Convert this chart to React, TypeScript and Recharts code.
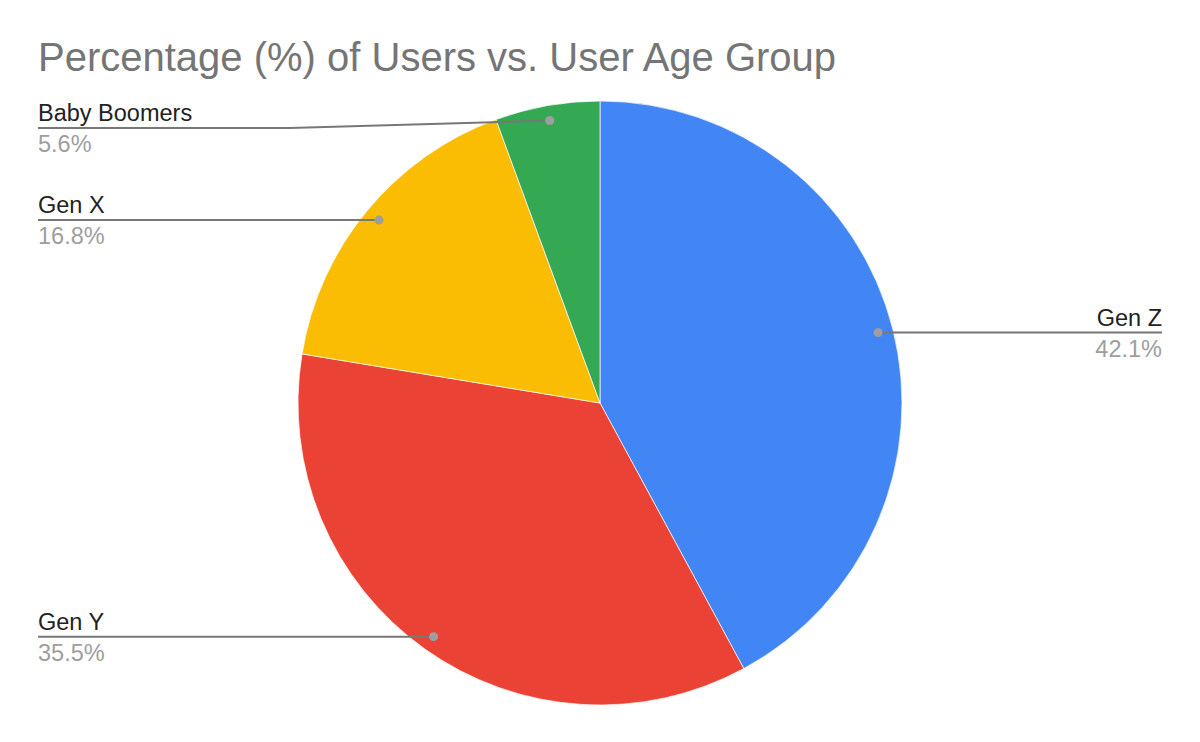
import { PieChart, Pie, Cell } from "recharts";

const groups = ["Gen Z", "Gen Y", "Gen X", "Baby Boomers"];
const shares = [42.1, 35.5, 16.8, 5.6];
const colors = ["#4285F4", "#EA4335", "#FBBC04", "#34A853"];

const data = groups.map((g, i) => ({ name: g, value: shares[i] }));

const RADIAN = Math.PI / 180;
const FONT = "Arial, 'Liberation Sans', sans-serif";

function renderLabel(props: any) {
  const { cx, cy, midAngle, outerRadius, index } = props;
  const r = outerRadius * 0.95;
  const dx = cx + r * Math.cos(-midAngle * RADIAN);
  const dy = cy + r * Math.sin(-midAngle * RADIAN);
  const right = dx > cx;
  const edge = right ? 1162 : 38;
  // keep labels clear of the title
  const ly = Math.max(dy, 128);
  const elbow = right ? 910 : 290;
  const path =
    ly === dy
      ? `M${dx},${dy} L${edge},${ly}`
      : `M${dx},${dy} L${elbow},${ly} L${edge},${ly}`;
  return (
    <g key={`lbl-${index}`}>
      <path d={path} stroke="#777777" strokeWidth={2} fill="none" />
      <circle cx={dx} cy={dy} r={4.5} fill="#9e9e9e" />
      <text
        x={edge}
        y={ly - 7}
        textAnchor={right ? "end" : "start"}
        fontSize={23.5}
        fontFamily={FONT}
        fill="#222222"
      >
        {groups[index]}
      </text>
      <text
        x={edge}
        y={ly + 24}
        textAnchor={right ? "end" : "start"}
        fontSize={23.5}
        fontFamily={FONT}
        fill="#9e9e9e"
      >
        {`${shares[index].toFixed(1)}%`}
      </text>
    </g>
  );
}

export default function App() {
  return (
    <div style={{ position: "absolute", left: 0, top: 0, width: 1200, height: 742, background: "#fff" }}>
      <div
        style={{
          position: "absolute",
          left: 38,
          top: 34,
          fontFamily: FONT,
          fontSize: 40,
          lineHeight: "46px",
          color: "#757575",
          whiteSpace: "nowrap",
        }}
      >
        Percentage (%) of Users vs. User Age Group
      </div>
      <PieChart width={1200} height={742} margin={{ top: 0, right: 0, bottom: 0, left: 0 }}>
        <Pie
          data={data}
          dataKey="value"
          nameKey="name"
          cx={600}
          cy={403}
          outerRadius={302}
          startAngle={90}
          endAngle={-270}
          stroke="#ffffff"
          strokeWidth={0.7}
          label={renderLabel}
          labelLine={false}
          isAnimationActive={false}
        >
          {data.map((d, i) => (
            <Cell key={d.name} fill={colors[i]} />
          ))}
        </Pie>
      </PieChart>
    </div>
  );
}
